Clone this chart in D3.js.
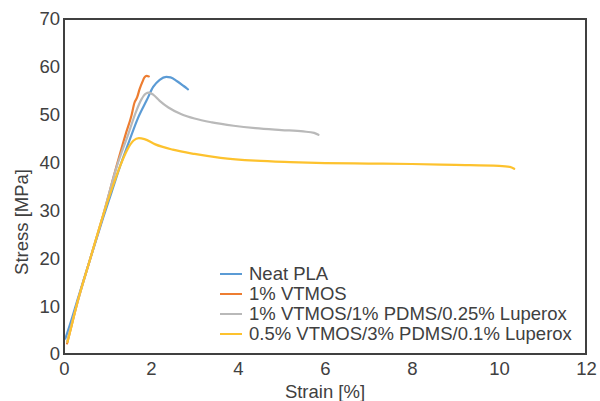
<!DOCTYPE html>
<html><head><meta charset="utf-8">
<script src="https://cdn.jsdelivr.net/npm/d3@7"></script>
<style>body{margin:0;background:#fff}svg{display:block}text{font-family:"Liberation Sans",Arial,sans-serif;fill:#404040}</style>
</head><body><svg id="c" width="600" height="401"></svg>
<script>
const seriesNames = ["Neat PLA","1% VTMOS","1% VTMOS/1% PDMS/0.25% Luperox","0.5% VTMOS/3% PDMS/0.1% Luperox"];
const seriesColors = ["#5B9BD5","#ED7D31","#B9B9B9","#FDC22E"];
const xTicks = [0,2,4,6,8,10,12];
const yTicks = [0,10,20,30,40,50,60,70];
const neatPLA = [[0.03,3.2],[0.15,6.5],[0.3,11],[0.6,19.8],[0.9,28.5],[1.1,34],[1.3,39.5],[1.5,44.5],[1.7,49.3],[1.9,53],[2.05,55.8],[2.2,57.3],[2.35,57.9],[2.45,57.8],[2.6,57],[2.75,56],[2.85,55.3]];
const vtmos1 = [[0.07,2.2],[0.12,4],[0.3,10.5],[0.6,19.8],[0.9,29],[1.2,39],[1.42,46],[1.55,49.8],[1.62,52.5],[1.68,53.6],[1.74,55.4],[1.8,56.8],[1.85,57.8],[1.9,58.1],[1.95,58]];
const vtmosPdms1 = [[0.07,2.5],[0.3,10.5],[0.6,19.8],[0.9,29],[1.2,38.8],[1.48,46],[1.65,50.5],[1.78,53.2],[1.88,54.4],[1.95,54.6],[2.05,54.2],[2.2,52.9],[2.4,51.5],[2.7,50.1],[3.0,49.2],[3.4,48.4],[3.9,47.7],[4.4,47.2],[5.0,46.8],[5.5,46.5],[5.75,46.2],[5.85,45.8]];
const vtmosPdms05 = [[0.08,2.5],[0.15,5],[0.3,10.5],[0.6,19.8],[0.9,29],[1.1,34.5],[1.3,39.5],[1.45,42.6],[1.6,44.6],[1.72,45.1],[1.85,44.9],[2.1,43.8],[2.5,42.7],[3.0,41.8],[3.6,41.0],[4.4,40.4],[5.2,40.1],[6,39.9],[7,39.8],[8,39.7],[9,39.5],[10,39.3],[10.25,39.1],[10.35,38.7]];
const allSeries = [neatPLA, vtmos1, vtmosPdms1, vtmosPdms05];

const svg = d3.select("#c");
const L=64,R=586,T=19,B=354;
const x = d3.scaleLinear().domain([0,12]).range([L,R]);
const y = d3.scaleLinear().domain([0,70]).range([B,T]);
const fs = 18.5;

const line = d3.line().x(d=>x(d[0])).y(d=>y(d[1])).curve(d3.curveMonotoneX);
allSeries.forEach((s,i)=>{
  svg.append("path").attr("d",line(s)).attr("fill","none")
    .attr("stroke",seriesColors[i]).attr("stroke-width",2.2).attr("stroke-linecap","round").attr("stroke-linejoin","round");
});

const xa = svg.append("g").attr("transform",`translate(0,${B})`).call(d3.axisBottom(x).tickValues(xTicks).tickSize(0).tickPadding(8));
xa.select(".domain").remove();
xa.selectAll("text").attr("font-size",fs).attr("fill","#404040").attr("font-family","Liberation Sans, Arial, sans-serif");
const ya = svg.append("g").attr("transform",`translate(${L},0)`).call(d3.axisLeft(y).tickValues(yTicks).tickSize(0).tickPadding(4));
ya.select(".domain").remove();
ya.selectAll("text").attr("font-size",fs).attr("fill","#404040").attr("font-family","Liberation Sans, Arial, sans-serif");

svg.append("rect").attr("x",L).attr("y",T).attr("width",R-L).attr("height",B-T)
  .attr("fill","none").attr("stroke","#404040").attr("stroke-width",2);

svg.append("text").attr("x",(L+R)/2).attr("y",398).attr("text-anchor","middle").attr("font-size",fs).text("Strain [%]");
svg.append("text").attr("transform",`translate(28,222) rotate(-90)`).attr("text-anchor","middle").attr("font-size",fs).text("Stress [MPa]");

const lg = svg.append("g");
seriesNames.forEach((n,i)=>{
  const yy = 274 + i*20;
  lg.append("line").attr("x1",220).attr("x2",242).attr("y1",yy).attr("y2",yy).attr("stroke",seriesColors[i]).attr("stroke-width",2);
  lg.append("text").attr("x",249).attr("y",yy).attr("dy","0.35em").attr("font-size",fs).text(n);
});
</script></body></html>
